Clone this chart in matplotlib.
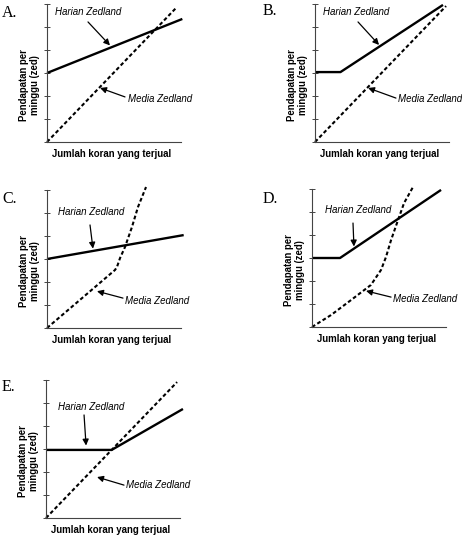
import matplotlib
matplotlib.use("Agg")
import matplotlib.pyplot as plt

plt.rcParams["font.family"] = ["Liberation Sans", "DejaVu Sans"]

# x: jumlah koran (0-10), y: pendapatan (0-6 ticks)
A_harian_x = [0, 10.1]
A_harian_y = [3.0, 5.35]
A_media_x = [0, 9.7]
A_media_y = [0, 5.87]

B_harian_x = [0, 1.9, 9.55]
B_harian_y = [3.04, 3.04, 5.96]
B_media_x = [0, 9.78]
B_media_y = [0, 5.91]

C_harian_x = [0, 10.2]
C_harian_y = [3.0, 4.04]
C_media_x = [0, 5.07, 5.22, 5.45, 5.82, 6.34, 6.79, 7.39]
C_media_y = [0, 2.52, 2.65, 3.04, 3.52, 4.39, 5.26, 6.13]

D_harian_x = [0, 2.09, 9.63]
D_harian_y = [3.0, 3.0, 5.96]
D_media_x = [0, 1.42, 2.91, 4.4, 5.15, 5.52, 5.9, 6.42, 6.87, 7.54]
D_media_y = [0, 0.52, 1.17, 1.83, 2.48, 3.04, 3.78, 4.65, 5.39, 6.09]

E_harian_x = [0, 4.9, 10.22]
E_harian_y = [2.96, 2.96, 4.74]
E_media_x = [0, 9.78]
E_media_y = [0, 5.91]

panels = ["A", "B", "C", "D", "E"]
harian = {"A": (A_harian_x, A_harian_y), "B": (B_harian_x, B_harian_y),
          "C": (C_harian_x, C_harian_y), "D": (D_harian_x, D_harian_y),
          "E": (E_harian_x, E_harian_y)}
media = {"A": (A_media_x, A_media_y), "B": (B_media_x, B_media_y),
         "C": (C_media_x, C_media_y), "D": (D_media_x, D_media_y),
         "E": (E_media_x, E_media_y)}

# layout: axes origin in pixels, letter position in pixels
W, H = 462, 536
origin = {"A": (47, 142), "B": (315, 142), "C": (47, 328), "D": (312, 327), "E": (46, 518)}
letter_pos = {"A": (2, 13), "B": (263, 11), "C": (2, 199), "D": (263, 199), "E": (2, 387)}

# annotation layout in data coords: text, arrow start, arrow tip
harian_note = {"A": ((3.06, 5.65), (3.06, 5.22), (4.7, 4.2)),
               "B": ((3.06, 5.65), (3.21, 5.22), (4.78, 4.22)),
               "C": ((3.28, 5.04), (3.21, 4.48), (3.43, 3.45)),
               "D": ((3.43, 5.09), (3.06, 4.52), (3.13, 3.5)),
               "E": ((3.36, 4.83), (2.84, 4.48), (2.99, 3.15))}
media_note = {"A": ((6.04, 1.87), (5.82, 1.96), (3.96, 2.35)),
              "B": ((6.19, 1.87), (6.04, 1.91), (3.96, 2.35)),
              "C": ((5.82, 1.17), (5.67, 1.30), (3.73, 1.6)),
              "D": ((6.04, 1.22), (5.9, 1.30), (4.03, 1.57)),
              "E": ((5.97, 1.43), (5.82, 1.43), (3.81, 1.78))}

fig = plt.figure(figsize=(W / 100, H / 100), dpi=100)

arrow = dict(arrowstyle="-|>", color="black", lw=0.9, mutation_scale=9,
             shrinkA=0, shrinkB=0)

for p in panels:
    x0, y0 = origin[p]
    ax = fig.add_axes([x0 / W, (H - y0) / H, 134 / W, 138 / H])
    ax.set_xlim(0, 10)
    ax.set_ylim(0, 6)
    for s in ["top", "right"]:
        ax.spines[s].set_visible(False)
    for s in ["left", "bottom"]:
        ax.spines[s].set_color("#444444")
        ax.spines[s].set_linewidth(0.8)
    ax.set_xticks([])
    ax.set_yticks(range(7))
    ax.tick_params(axis="y", direction="inout", length=5, width=0.7,
                   color="#444444", labelleft=False)
    ax.patch.set_alpha(0)

    hx, hy = harian[p]
    mx, my = media[p]
    ax.plot(hx, hy, color="black", lw=1.7, clip_on=False, solid_capstyle="butt")
    ax.plot(mx, my, color="black", lw=1.5, ls=(0, (1.8, 1.2)), clip_on=False)

    t, s, e = harian_note[p]
    ax.text(t[0], t[1], "Harian Zedland", style="italic", fontsize=7,
            ha="center", va="center")
    ax.annotate("", xy=e, xytext=s, arrowprops=arrow, annotation_clip=False)
    t, s, e = media_note[p]
    ax.text(t[0], t[1], "Media Zedland", style="italic", fontsize=7,
            ha="left", va="center", clip_on=False)
    ax.annotate("", xy=e, xytext=s, arrowprops=arrow, annotation_clip=False)

    ax.set_ylabel("Pendapatan per\nminggu (zed)", fontweight="bold", fontsize=6.9,
                  linespacing=1.05)
    ax.yaxis.set_label_coords(-0.055, 0.41)
    ax.set_xlabel("Jumlah koran yang terjual", fontweight="bold", fontsize=6.9)
    ax.xaxis.set_label_coords(0.485, -0.05)

    lx, ly = letter_pos[p]
    fig.text(lx / W, 1 - ly / H, p + ".", family="Liberation Serif", fontsize=11.5,
             ha="left", va="center")

fig.savefig("out.png", dpi=100, facecolor="white")
